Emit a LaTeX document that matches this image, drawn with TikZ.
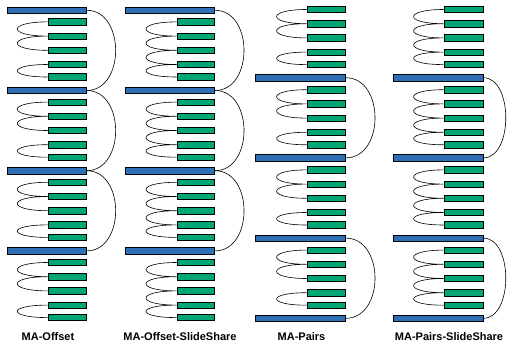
\documentclass[tikz,border=0pt]{standalone}
\usepackage{fontspec}
\setmainfont{Liberation Sans}
\definecolor{barblue}{RGB}{45,110,180}
\definecolor{bargreen}{RGB}{0,166,118}
\begin{document}
\begin{tikzpicture}[x=1pt,y=-1pt,
  bar/.style={draw=black,line width=0.7pt,rectangle,inner sep=0pt,minimum height=6.4pt,anchor=east},
  bbar/.style={bar,fill=barblue},
  gbar/.style={bar,fill=bargreen},
  lnk/.style={draw=black,line width=0.6pt},
  lbl/.style={font=\bfseries\fontsize{11}{13}\selectfont,inner sep=0pt}]
\useasboundingbox (0,0) rectangle (507,345);
% ---------- MA-Offset (a) and MA-Offset-SlideShare (b)
\foreach \k in {0,1,2,3}{
  \pgfmathsetmacro\yb{10.3+80.2*\k}
  \node[bbar,minimum width=79.4pt] (a\k) at (86.7,\yb) {};
  \node[bbar,minimum width=89pt] (b\k) at (215,\yb) {};
  \foreach \i/\o in {1/11.6,2/25.8,3/40,4/54.2,5/66.7}{
    \pgfmathsetmacro\yg{\yb+\o}
    \node[gbar,minimum width=38.4pt] (a\k g\i) at (86.7,\yg) {};
    \node[gbar,minimum width=37.7pt] (b\k g\i) at (215,\yg) {};
  }
  \draw[lnk] (a\k g1.west) .. controls +(-40.4,0) and +(-40.4,0) .. (a\k g2.west)
             .. controls +(-40.4,0) and +(-40.4,0) .. (a\k g3.west);
  \draw[lnk] (a\k g4.west) .. controls +(-40.4,0) and +(-40.4,0) .. (a\k g5.west);
  \draw[lnk] (b\k g1.west) .. controls +(-40.8,0) and +(-40.8,0) .. (b\k g2.west)
             .. controls +(-40.8,0) and +(-40.8,0) .. (b\k g3.west)
             .. controls +(-40.8,0) and +(-40.8,0) .. (b\k g4.west)
             .. controls +(-40.8,0) and +(-40.8,0) .. (b\k g5.west);
}
\foreach \k/\n in {0/1,1/2,2/3}{
  \draw[lnk] (a\k.east) .. controls +(38.6,0) and +(38.6,0) .. (a\n.east);
  \draw[lnk] (b\k.east) .. controls +(38.7,0) and +(38.7,0) .. (b\n.east);
}
% ---------- MA-Pairs (c) and MA-Pairs-SlideShare (d)
\foreach \k in {0,1,2,3}{
  \pgfmathsetmacro\yo{9.5+80.2*\k}
  \foreach \i/\o in {1/0,2/14.2,3/28.4,4/42.6,5/55.1}{
    \pgfmathsetmacro\yg{\yo+\o}
    \node[gbar,minimum width=38.4pt] (c\k g\i) at (345.7,\yg) {};
    \node[gbar,minimum width=39pt] (d\k g\i) at (483.3,\yg) {};
  }
  \pgfmathsetmacro\yb{\yo+68.2}
  \node[bbar,minimum width=89.7pt] (c\k) at (345.7,\yb) {};
  \node[bbar,minimum width=89.3pt] (d\k) at (483.3,\yb) {};
  \draw[lnk] (c\k g1.west) .. controls +(-40,0) and +(-40,0) .. (c\k g2.west)
             .. controls +(-40,0) and +(-40,0) .. (c\k g3.west);
  \draw[lnk] (c\k g4.west) .. controls +(-40,0) and +(-40,0) .. (c\k g5.west);
  \draw[lnk] (d\k g1.west) .. controls +(-40,0) and +(-40,0) .. (d\k g2.west)
             .. controls +(-40,0) and +(-40,0) .. (d\k g3.west)
             .. controls +(-40,0) and +(-40,0) .. (d\k g4.west)
             .. controls +(-40,0) and +(-40,0) .. (d\k g5.west);
}
\foreach \k/\n in {0/1,2/3}{
  \draw[lnk] (c\k.east) .. controls +(39.1,0) and +(39.1,0) .. (c\n.east);
  \draw[lnk] (d\k.east) .. controls +(30,0) and +(30,0) .. (d\n.east);
}
% ---------- labels
\node[lbl] (la) at (48,337) {MA-Offset};
\node[lbl] (lb) at (180,337) {MA-Offset-SlideShare};
\node[lbl] (lc) at (301.5,337) {MA-Pairs};
\node[lbl] (ld) at (449,337) {MA-Pairs-SlideShare};
\end{tikzpicture}
\end{document}
